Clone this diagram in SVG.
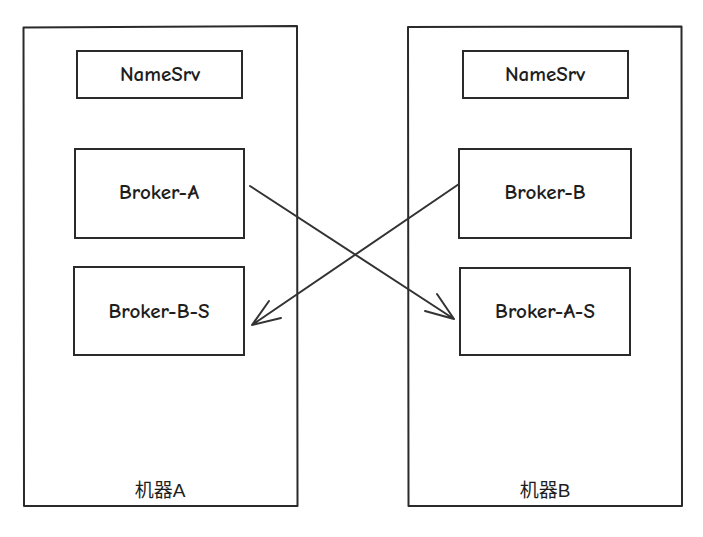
<svg xmlns="http://www.w3.org/2000/svg" width="703" height="537" viewBox="0 0 703 537">
<style>
.box{fill:none;stroke:#2a2a2a;stroke-width:2;stroke-linejoin:round}
.node{fill:#ffffff;stroke:#2a2a2a;stroke-width:2}
.lbl{font-family:"Comic Neue","Liberation Sans","DejaVu Sans",sans-serif;font-size:21px;font-weight:bold;fill:#1e1e1e;text-anchor:middle;dominant-baseline:central}
.cjk{font-family:"Liberation Sans","Noto Sans CJK SC",sans-serif;font-size:19px;fill:#1e1e1e;text-anchor:middle;dominant-baseline:central}
.edge{fill:none;stroke:#333333;stroke-width:2;stroke-linecap:round;stroke-linejoin:round}
</style>
<rect width="703" height="537" fill="#ffffff"/>
<g id="machineA">
<path class="box" d="M23.5 27.5 L297 26 L297.5 506 L24 506 Z"/>
<text class="cjk" x="160" y="490">机器A</text>
</g>
<g id="machineB">
<path class="box" d="M408 27 L681.5 26.5 L682 506 L408.5 506 Z"/>
<text class="cjk" x="545" y="490">机器B</text>
</g>
<g id="namesrvA">
<rect class="node" x="77" y="51" width="165" height="47"/>
<text class="lbl" x="160" y="74">NameSrv</text>
</g>
<g id="namesrvB">
<rect class="node" x="463" y="51" width="165" height="47"/>
<text class="lbl" x="545" y="74">NameSrv</text>
</g>
<g id="brokerA">
<rect class="node" x="75" y="149" width="169" height="89"/>
<text class="lbl" x="159" y="192">Broker-A</text>
</g>
<g id="brokerBS">
<rect class="node" x="74" y="267" width="170" height="88"/>
<text class="lbl" x="159" y="311">Broker-B-S</text>
</g>
<g id="brokerB">
<rect class="node" x="459" y="149" width="172" height="89"/>
<text class="lbl" x="545" y="192">Broker-B</text>
</g>
<g id="brokerAS">
<rect class="node" x="460" y="268" width="170" height="87"/>
<text class="lbl" x="545" y="311">Broker-A-S</text>
</g>
<g id="connectors">
<path class="edge" d="M250 186 L454 319 M437 294 L454 319 L425 311"/>
<path class="edge" d="M459 184 L252 325 M269 301 L252 325 L281 318"/>
</g>
</svg>
